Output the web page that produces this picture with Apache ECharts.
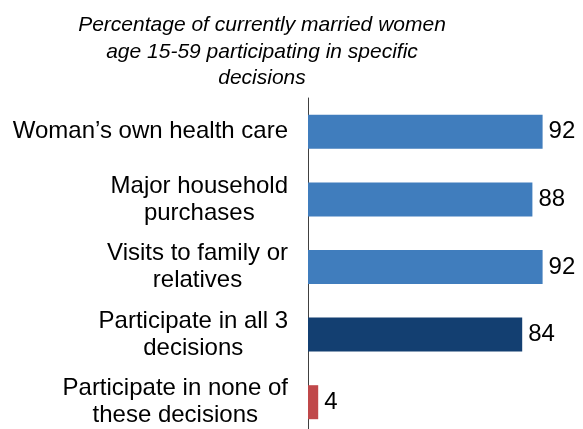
<!DOCTYPE html>
<html>
<head>
<meta charset="utf-8">
<script src="https://cdn.jsdelivr.net/npm/echarts@6/dist/echarts.min.js"></script>
<style>
html,body{margin:0;padding:0;background:#fff;}
#chart{width:583px;height:429px;}
</style>
</head>
<body>
<div id="chart"></div>
<script>
var titleText = 'Percentage of currently married women\nage 15-59 participating in specific\ndecisions';
var categories = [
  'Woman\u2019s own health care',
  'Major household\npurchases',
  'Visits to family or\nrelatives',
  'Participate in all 3\ndecisions',
  'Participate in none of\nthese decisions'
];
var values = [92, 88, 92, 84, 4];
var barColors = ['#407DBD', '#407DBD', '#407DBD', '#133F71', '#C0484A'];

var chart = echarts.init(document.getElementById('chart'));
chart.setOption({
  backgroundColor: '#fff',
  animation: false,
  title: {
    text: titleText,
    left: 262,
    top: 12,
    padding: 0,
    textAlign: 'center',
    textStyle: {
      fontFamily: 'Liberation Sans, Arial, sans-serif',
      fontStyle: 'italic',
      fontWeight: 'normal',
      fontSize: 21,
      lineHeight: 26.5,
      color: '#000'
    }
  },
  grid: { left: 308, top: 98, width: 255, height: 338, outerBoundsMode: 'none', containLabel: false },
  xAxis: {
    type: 'value', min: 0, max: 100, show: false
  },
  yAxis: {
    type: 'category',
    inverse: true,
    data: categories,
    axisTick: { show: false },
    axisLine: { show: true, lineStyle: { color: '#404040', width: 1 } },
    splitLine: { show: false },
    axisLabel: {
      margin: 20,
      formatter: function (v) {
        return v.split('\n').map(function (l) { return '{c|' + l + '}'; }).join('\n');
      },
      rich: {
        c: {
          align: 'center',
          fontFamily: 'Liberation Sans, Arial, sans-serif',
          fontSize: 24,
          lineHeight: 27,
          color: '#000'
        }
      }
    }
  },
  series: [{
    type: 'bar',
    barWidth: 34,
    data: values.map(function (v, i) {
      return { value: v, itemStyle: { color: barColors[i] } };
    }),
    label: {
      show: true,
      position: 'right',
      distance: 6,
      fontFamily: 'Liberation Sans, Arial, sans-serif',
      fontSize: 24,
      color: '#000'
    }
  }]
});
</script>
</body>
</html>
